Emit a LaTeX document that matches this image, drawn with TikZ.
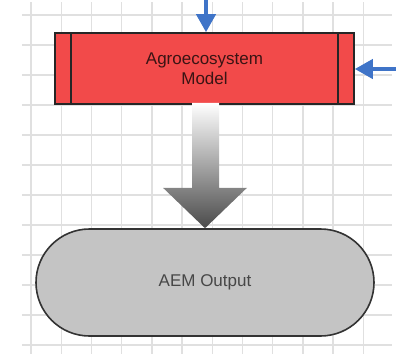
\documentclass[tikz,border=0pt]{standalone}
\usepackage{fontspec}
\setmainfont{Liberation Sans}
\usetikzlibrary{arrows.meta,calc}
\definecolor{gridgray}{HTML}{E0E0E0}
\definecolor{modelred}{HTML}{F24A4A}
\definecolor{modeltext}{HTML}{3A1414}
\definecolor{outgray}{HTML}{C4C4C4}
\definecolor{outline}{HTML}{333333}
\definecolor{flowblue}{HTML}{3F74C8}
\definecolor{arrowdark}{HTML}{4A4A4A}
\tikzset{
  x=1pt, y=-1pt,
  gridline/.style={draw=gridgray, line width=1.4pt},
  process/.style={draw=black!85, line width=1.6pt, fill=modelred, text=modeltext,
    minimum width=299pt, minimum height=71pt, inner sep=0pt, align=center,
    font=\fontsize{17}{20.5}\selectfont},
  terminal/.style={draw=outline, line width=1.6pt, fill=outgray, text=black!72,
    minimum width=338pt, minimum height=107pt, rounded corners=53.5pt,
    inner sep=0pt, font=\fontsize{17}{20}\selectfont},
  inflow/.style={draw=flowblue, line width=4pt,
    -{Triangle[width=19pt,length=18pt]}},
}
\begin{document}
\begin{tikzpicture}
\useasboundingbox (0,0) rectangle (396,354);
% background grid
\foreach \k in {0,...,11} {
  \draw[gridline] (22,15+30*\k) -- (392,15+30*\k);
  \draw[gridline] (31+30.2*\k,2) -- (31+30.2*\k,354);
}
% model box with side bars
\node[process] (model) at (204.5,68.5) {Agroecosystem\\Model};
\draw[draw=black!85, line width=1.6pt] ($(model.north west)+(17,0)$) -- ($(model.south west)+(17,0)$);
\draw[draw=black!85, line width=1.6pt] ($(model.north east)+(-17,0)$) -- ($(model.south east)+(-17,0)$);
% output terminal
\node[terminal] (out) at (205,282.5) {AEM Output};
% shaded block arrow from model to output
\shade[top color=white, bottom color=arrowdark]
  ($(model.south)+(-12.5,-2)$) -- ($(model.south)+(14.5,-2)$)
  -- ($(model.south)+(14.5,83)$) -- ($(model.south)+(42.5,83)$)
  -- (out.north)
  -- ($(model.south)+(-41.5,83)$) -- ($(model.south)+(-12.5,83)$) -- cycle;
% incoming arrows
\coordinate (topin) at (206,0);
\coordinate (sidein) at (396,69);
\draw[inflow] (topin) -- (topin |- model.north);
\draw[inflow] (sidein) -- (sidein -| model.east);
\end{tikzpicture}
\end{document}
